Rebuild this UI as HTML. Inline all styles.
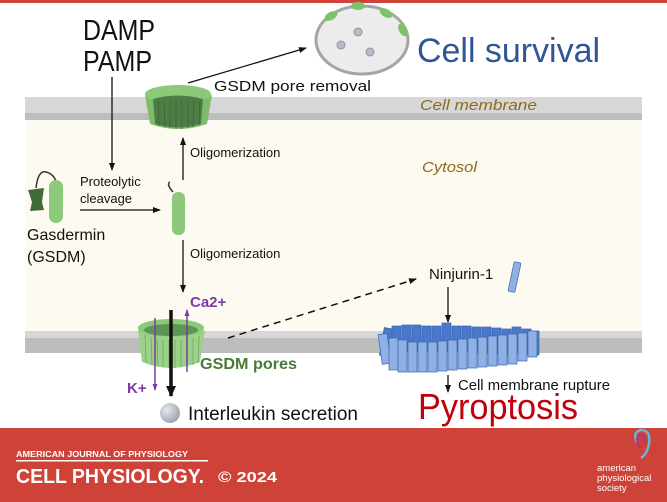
<!DOCTYPE html>
<html><head><meta charset="utf-8"><style>
html,body{margin:0;padding:0;background:#fff}
svg{display:block}
text{font-family:"Liberation Sans",sans-serif}
</style></head><body>
<svg width="667" height="502" viewBox="0 0 667 502" xmlns="http://www.w3.org/2000/svg">
<defs>
<marker id="ah" markerWidth="8" markerHeight="8" refX="7" refY="4" orient="auto" markerUnits="userSpaceOnUse"><path d="M0,1 L8,4 L0,7 Z" fill="#111"/></marker>
<marker id="ahp" markerWidth="7" markerHeight="7" refX="6" refY="3.5" orient="auto" markerUnits="userSpaceOnUse"><path d="M0,1 L7,3.5 L0,6 Z" fill="#7a3aa8"/></marker>
<marker id="ahb" markerWidth="12" markerHeight="12" refX="10" refY="6" orient="auto" markerUnits="userSpaceOnUse"><path d="M0,1 L11,6 L0,11 Z" fill="#111"/></marker>
<radialGradient id="ball" cx="0.35" cy="0.35" r="0.7"><stop offset="0" stop-color="#e6e9ee"/><stop offset="1" stop-color="#9aa3ad"/></radialGradient>
</defs>
<rect x="0" y="0" width="667" height="3" fill="#d0433a"/>
<rect x="25" y="120" width="617" height="211" fill="#fdfbf1"/>
<rect x="25" y="97" width="617" height="16" fill="#d7d7d7"/>
<rect x="25" y="113" width="617" height="7" fill="#bdbdbd"/>
<rect x="25" y="331" width="617" height="7" fill="#d7d7d7"/>
<rect x="25" y="338" width="617" height="15" fill="#bdbdbd"/>
<text x="420" y="110" font-size="15" font-style="italic" fill="#8a6d1c" textLength="117" lengthAdjust="spacingAndGlyphs">Cell membrane</text>
<text x="422" y="172" font-size="15" font-style="italic" fill="#8a6d1c" textLength="55" lengthAdjust="spacingAndGlyphs">Cytosol</text>
<ellipse cx="362" cy="40" rx="46" ry="34" fill="#ececec" stroke="#a5a5a5" stroke-width="3"/>
<ellipse cx="331" cy="16" rx="7" ry="4" fill="#7cc46a" transform="rotate(-30 331 16)"/>
<ellipse cx="358" cy="6" rx="7" ry="4" fill="#7cc46a"/>
<ellipse cx="386" cy="13" rx="7" ry="4" fill="#7cc46a" transform="rotate(30 386 13)"/>
<ellipse cx="403" cy="30" rx="7" ry="4" fill="#7cc46a" transform="rotate(60 403 30)"/>
<circle cx="358" cy="32" r="4" fill="#b5bcc6" stroke="#8e96a0"/>
<circle cx="341" cy="45" r="4" fill="#b5bcc6" stroke="#8e96a0"/>
<circle cx="370" cy="52" r="4" fill="#b5bcc6" stroke="#8e96a0"/>
<text x="417" y="62" font-size="34" fill="#2f5597" textLength="183" lengthAdjust="spacingAndGlyphs">Cell survival</text>
<text x="83" y="40" font-size="29" fill="#111" textLength="72" lengthAdjust="spacingAndGlyphs">DAMP</text>
<text x="83" y="71" font-size="29" fill="#111" textLength="69" lengthAdjust="spacingAndGlyphs">PAMP</text>
<line x1="112" y1="77" x2="112" y2="170" stroke="#111" stroke-width="1.3" marker-end="url(#ah)"/>
<text x="80" y="186" font-size="13" fill="#111">Proteolytic</text>
<text x="80" y="203" font-size="13" fill="#111">cleavage</text>
<line x1="80" y1="210" x2="160" y2="210" stroke="#111" stroke-width="1.3" marker-end="url(#ah)"/>
<path d="M36,188 Q38,170 46,172 Q54,174 56,182" fill="none" stroke="#333" stroke-width="1.5"/>
<path d="M28,190 L44,188 L42,202 L44,210 L30,211 L32,202 Z" fill="#3f6b3a"/>
<rect x="49" y="180" width="14" height="43" rx="7" fill="#8cc97a"/>
<text x="27" y="240" font-size="16" fill="#111">Gasdermin</text>
<text x="27" y="262" font-size="16" fill="#111">(GSDM)</text>
<path d="M173,192 Q166,184 170,182" fill="none" stroke="#333" stroke-width="1.5"/>
<rect x="172" y="192" width="13" height="43" rx="6" fill="#8cc97a"/>
<line x1="183" y1="180" x2="183" y2="138" stroke="#111" stroke-width="1.3" marker-end="url(#ah)"/>
<text x="190" y="157" font-size="13" fill="#111">Oligomerization</text>
<line x1="183" y1="240" x2="183" y2="292" stroke="#111" stroke-width="1.3" marker-end="url(#ah)"/>
<text x="190" y="258" font-size="13" fill="#111">Oligomerization</text>
<g>
<path d="M145,95 L150,124 Q178,134 207,124 L212,95 Q178,110 145,95 Z" fill="#7fbb6c"/>
<ellipse cx="178" cy="94" rx="33" ry="9" fill="#8cc97a"/>
<path d="M153,99 Q178,92 203,99 L201,124 Q178,131 155,124 Z" fill="#4e7e45"/>
<path d="M145,95 L150,124 Q178,134 207,124 L212,95 Q178,104 145,95 Z" fill="none"/>
<g stroke="#3a6334" stroke-width="0.8">
<line x1="158" y1="101" x2="159" y2="126"/><line x1="164" y1="101" x2="165" y2="127"/><line x1="170" y1="101" x2="170" y2="128"/><line x1="176" y1="101" x2="176" y2="129"/><line x1="182" y1="101" x2="182" y2="129"/><line x1="188" y1="101" x2="188" y2="128"/><line x1="194" y1="101" x2="193" y2="127"/><line x1="200" y1="101" x2="199" y2="125"/>
</g>
</g>
<line x1="188" y1="83" x2="306" y2="48" stroke="#111" stroke-width="1.3" marker-end="url(#ah)"/>
<text x="214" y="91" font-size="15" fill="#111" textLength="157" lengthAdjust="spacingAndGlyphs">GSDM pore removal</text>
<g>
<path d="M138,330 L142,362 Q171,374 200,362 L205,330 Q171,345 138,330 Z" fill="#9bd189"/>
<ellipse cx="171" cy="328" rx="33" ry="9" fill="#8cc97a"/>
<ellipse cx="171" cy="330" rx="27" ry="6" fill="#5e9454"/>
<g stroke="#6fa861" stroke-width="0.8">
<line x1="145" y1="335" x2="146" y2="362"/><line x1="151" y1="337" x2="152" y2="365"/><line x1="157" y1="339" x2="158" y2="366"/><line x1="163" y1="340" x2="163" y2="367"/><line x1="169" y1="340" x2="169" y2="368"/><line x1="175" y1="340" x2="175" y2="368"/><line x1="181" y1="340" x2="181" y2="367"/><line x1="187" y1="339" x2="187" y2="366"/><line x1="193" y1="338" x2="193" y2="365"/><line x1="199" y1="336" x2="198" y2="363"/>
</g>
</g>
<line x1="171" y1="310" x2="171" y2="396" stroke="#111" stroke-width="3.5" marker-end="url(#ahb)"/>
<line x1="155" y1="318" x2="155" y2="390" stroke="#7a3aa8" stroke-width="1.5" marker-end="url(#ahp)"/>
<line x1="187" y1="372" x2="187" y2="310" stroke="#7a3aa8" stroke-width="1.5" marker-end="url(#ahp)"/>
<text x="190" y="307" font-size="15" font-weight="bold" fill="#7a3aa8">Ca2+</text>
<text x="200" y="369" font-size="16" font-weight="bold" fill="#4a7a35" textLength="97" lengthAdjust="spacingAndGlyphs">GSDM pores</text>
<text x="127" y="393" font-size="15" font-weight="bold" fill="#7a3aa8">K+</text>
<circle cx="170" cy="413" r="10" fill="url(#ball)"/>
<text x="188" y="420" font-size="19" fill="#111" textLength="170" lengthAdjust="spacingAndGlyphs">Interleukin secretion</text>
<line x1="228" y1="338" x2="416" y2="279" stroke="#111" stroke-width="1.5" stroke-dasharray="7,5" marker-end="url(#ah)"/>
<text x="429" y="279" font-size="15" fill="#111">Ninjurin-1</text>
<rect x="511" y="262" width="7" height="30" rx="1" fill="#8fb0e3" stroke="#4a72b8" stroke-width="0.8" transform="rotate(12 514 277)"/>
<line x1="448" y1="287" x2="448" y2="322" stroke="#111" stroke-width="1.3" marker-end="url(#ah)"/>
<g stroke="#3a64b0" stroke-width="0.7">
<g fill="#4a78cc">
<rect x="382" y="328" width="9" height="28" transform="rotate(10 386 341)"/>
<rect x="392" y="326" width="9" height="26"/><rect x="402" y="325" width="9" height="26"/><rect x="412" y="325" width="9" height="26"/><rect x="422" y="326" width="9" height="26"/><rect x="432" y="326" width="9" height="26"/><rect x="442" y="323" width="9" height="28"/><rect x="452" y="326" width="9" height="26"/><rect x="462" y="326" width="9" height="26"/><rect x="472" y="327" width="9" height="26"/><rect x="482" y="327" width="9" height="26"/><rect x="492" y="328" width="9" height="26"/><rect x="502" y="329" width="9" height="26"/><rect x="512" y="327" width="9" height="26"/><rect x="522" y="329" width="9" height="26"/><rect x="531" y="331" width="8" height="24"/>
</g>
<g fill="#8fb0e3">
<rect x="380" y="334" width="9" height="30" transform="rotate(-8 384 348)"/>
<rect x="389" y="338" width="9" height="32"/><rect x="398" y="340" width="9" height="32"/><rect x="408" y="342" width="9" height="30"/><rect x="418" y="342" width="9" height="30"/><rect x="428" y="342" width="9" height="30"/><rect x="438" y="341" width="9" height="30"/><rect x="448" y="340" width="9" height="30"/><rect x="458" y="339" width="9" height="30"/><rect x="468" y="338" width="9" height="30"/><rect x="478" y="337" width="9" height="30"/><rect x="488" y="336" width="9" height="30"/><rect x="498" y="335" width="9" height="30"/><rect x="508" y="334" width="9" height="30"/><rect x="518" y="333" width="9" height="28"/><rect x="528" y="331" width="9" height="26"/>
</g>
</g>
<line x1="448" y1="375" x2="448" y2="392" stroke="#111" stroke-width="1.3" marker-end="url(#ah)"/>
<text x="458" y="390" font-size="15" fill="#111" textLength="152" lengthAdjust="spacingAndGlyphs">Cell membrane rupture</text>
<text x="418" y="419" font-size="36" fill="#c0000b" textLength="160" lengthAdjust="spacingAndGlyphs">Pyroptosis</text>
<rect x="0" y="428" width="667" height="74" fill="#cf4237"/>
<text x="16" y="457" font-size="8.5" font-weight="bold" fill="#fff" textLength="172" lengthAdjust="spacingAndGlyphs">AMERICAN JOURNAL OF PHYSIOLOGY</text>
<rect x="16" y="460" width="192" height="1.5" fill="#fff"/>
<text x="16" y="483" font-size="20" font-weight="bold" fill="#fff" textLength="188" lengthAdjust="spacingAndGlyphs">CELL PHYSIOLOGY.</text>
<text x="218" y="482" font-size="15" font-weight="bold" fill="#fff" textLength="59" lengthAdjust="spacingAndGlyphs">© 2024</text>
<path d="M637,443 Q632,432 641,430 Q651,430 649,444 Q647,454 641,458" fill="none" stroke="#5fb8d6" stroke-width="2.5"/>
<path d="M640,448 Q635,440 639,436 Q645,433 645,444" fill="none" stroke="#b03a6e" stroke-width="2.5"/>
<text x="597" y="471" font-size="9.5" fill="#fff">american</text>
<text x="597" y="481" font-size="9.5" fill="#fff">physiological</text>
<text x="597" y="491" font-size="9.5" fill="#fff">society</text>
</svg>
</body></html>
